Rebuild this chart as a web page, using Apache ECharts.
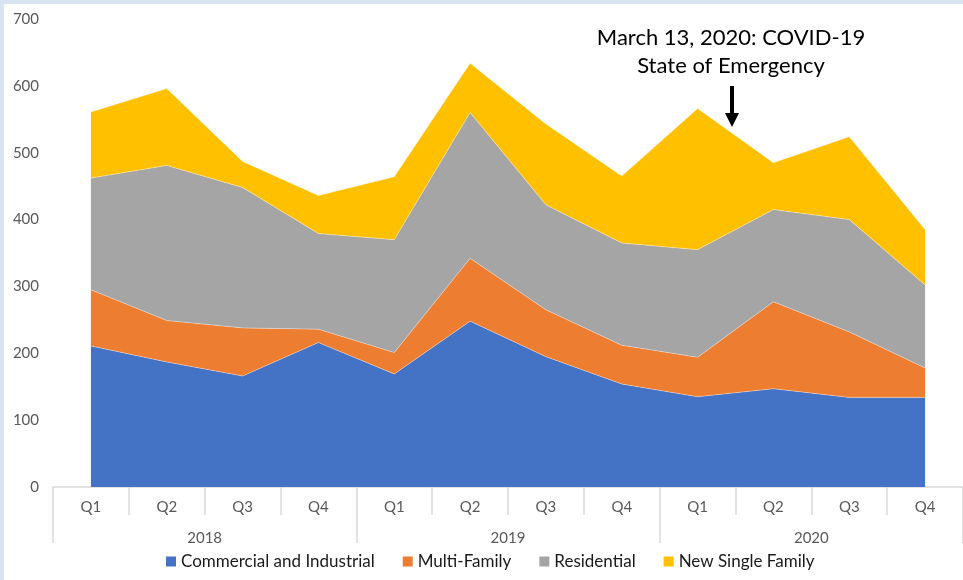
<!DOCTYPE html>
<html>
<head>
<meta charset="utf-8">
<script src="https://cdn.jsdelivr.net/npm/echarts@6/dist/echarts.min.js"></script>
<style>
  html, body { margin: 0; padding: 0; background: #d9e4f2; }
  #chart { position: absolute; left: 4px; top: 4px; width: 959px; height: 576px; background: #fff; }
</style>
</head>
<body>
<div id="chart"></div>
<script>
// quarters and years for the two-level axis
const quarters = ["Q1", "Q2", "Q3", "Q4", "Q1", "Q2", "Q3", "Q4", "Q1", "Q2", "Q3", "Q4"];
const years = ["2018", "2019", "2020"];

// values per quarter (stacked)
const commercial = [211, 187, 166, 216, 169, 248, 195, 154, 135, 147, 134, 134];
const multiFamily = [84, 62, 72, 20, 32, 94, 70, 58, 59, 130, 98, 44];
const residential = [167, 232, 210, 143, 169, 218, 157, 153, 161, 138, 168, 124];
const newSingle = [99, 115, 39, 57, 94, 74, 121, 100, 211, 70, 124, 83];

const font = "Lato, 'Noto Sans', sans-serif";
const chart = echarts.init(document.getElementById("chart"));

function area(name, data, color) {
  return {
    name: name,
    type: "line",
    stack: "total",
    data: data,
    symbol: "none",
    lineStyle: { width: 0.6, color: "#ffffff", opacity: 0.6 },
    areaStyle: { color: color, opacity: 1 },
    itemStyle: { color: color },
    z: 2
  };
}

chart.setOption({
  animation: false,
  textStyle: { fontFamily: font },
  grid: { left: 49, right: 0, top: 15, bottom: 93 },
  legend: {
    bottom: 5,
    left: 157,
    itemWidth: 10,
    itemHeight: 10,
    itemGap: 28,
    icon: "rect",
    textStyle: { color: "#1a1a1a", fontSize: 17, fontFamily: font }
  },
  xAxis: [
    {
      type: "category",
      data: quarters,
      boundaryGap: true,
      axisLine: { lineStyle: { color: "#d9d9d9", width: 1.5 } },
      axisTick: { show: true, length: 28, lineStyle: { color: "#d9d9d9", width: 1.5 } },
      axisLabel: { color: "#595959", fontSize: 15, margin: 13, fontFamily: font }
    },
    {
      type: "category",
      data: years,
      position: "bottom",
      boundaryGap: true,
      axisLine: { show: false },
      axisTick: { show: true, length: 56, lineStyle: { color: "#d9d9d9", width: 1.5 } },
      axisLabel: { color: "#595959", fontSize: 15, margin: 44, fontFamily: font }
    }
  ],
  yAxis: {
    type: "value",
    min: 0,
    max: 700,
    interval: 100,
    splitLine: { show: false },
    axisLine: { show: false },
    axisTick: { show: false },
    axisLabel: { color: "#595959", fontSize: 15, margin: 14, fontFamily: font }
  },
  series: [
    area("Commercial and Industrial", commercial, "#4472c4"),
    area("Multi-Family", multiFamily, "#ed7d31"),
    area("Residential", residential, "#a5a5a5"),
    area("New Single Family", newSingle, "#ffc000")
  ],
  graphic: [
    {
      type: "text",
      x: 727,
      y: 20,
      style: {
        text: "March 13, 2020: COVID-19\nState of Emergency",
        textAlign: "center",
        fill: "#000",
        font: "22px " + font,
        lineHeight: 28
      }
    },
    {
      type: "rect",
      shape: { x: 726, y: 82, width: 4, height: 28 },
      style: { fill: "#000" }
    },
    {
      type: "polygon",
      shape: { points: [[721, 109], [735, 109], [728, 123]] },
      style: { fill: "#000" }
    }
  ]
});
</script>
</body>
</html>
